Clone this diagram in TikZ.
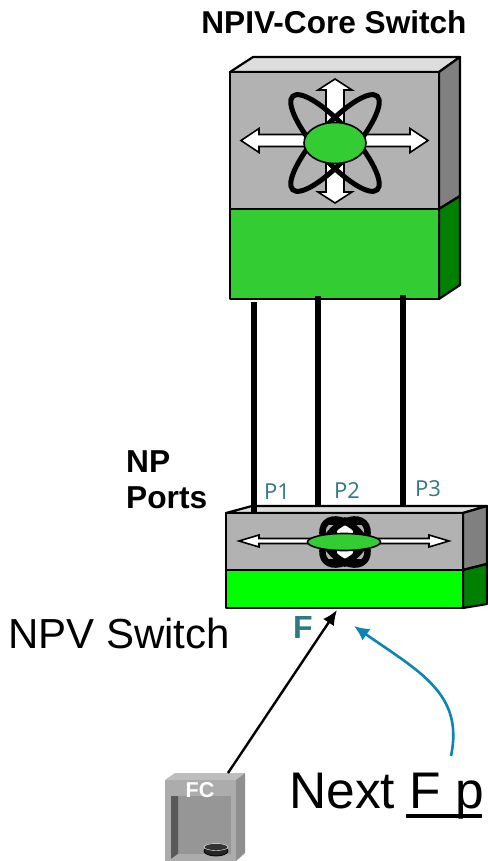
\documentclass[tikz,border=0pt]{standalone}
\usepackage{fontspec}
\setmainfont{Liberation Sans}
\newfontfamily\portfont{Open Sans}
\usetikzlibrary{arrows.meta,shapes.geometric}
\definecolor{swgreen}{HTML}{33CC33}
\definecolor{swlime}{HTML}{00FF00}
\definecolor{swdark}{HTML}{008000}
\definecolor{swgrey}{HTML}{B2B2B2}
\definecolor{swside}{HTML}{808080}
\definecolor{swtop}{HTML}{DDDDDD}
\definecolor{teal1}{HTML}{2F7888}
\definecolor{blue1}{HTML}{0A85B5}
\definecolor{fctop}{HTML}{BDBDBD}
\definecolor{fcside}{HTML}{8F8F8F}
\definecolor{fcfront}{HTML}{ACACAC}
\definecolor{fcinner}{HTML}{969696}
\definecolor{fcwall}{HTML}{595959}
\tikzset{
  face/.style={draw=black,line width=2.2pt,line join=round},
  link/.style={draw=black,line width=5.5pt},
  whitearrow/.style={fill=white,draw=black,line width=1.6pt,line join=miter},
  lbl/.style={inner sep=0pt,anchor=base west,text=black},
  portlbl/.style={inner sep=0pt,anchor=base,text=teal1,font=\portfont\fontsize{22}{22}\selectfont},
}
% double arrow: horizontal, centre (#1,#2), half length #3, half shaft #4, half head #5, head length #6
\newcommand{\hdarrow}[6]{\draw[whitearrow] (#1-#3,#2) -- ++(#6,-#5) -- ++(0,#5-#4) -- (#1+#3-#6,#2-#4) -- ++(0,#4-#5) -- (#1+#3,#2) -- ++(-#6,#5) -- ++(0,#4-#5) -- (#1-#3+#6,#2+#4) -- ++(0,#5-#4) -- cycle;}
\newcommand{\vdarrow}[6]{\draw[whitearrow] (#1,#2-#3) -- ++(-#5,#6) -- ++(#5-#4,0) -- (#1-#4,#2+#3-#6) -- ++(#4-#5,0) -- (#1,#2+#3) -- ++(#5,-#6) -- ++(#4-#5,0) -- (#1+#4,#2-#3+#6) -- ++(#5-#4,0) -- cycle;}
\begin{document}
\begin{tikzpicture}[x=1pt,y=-1pt]
\useasboundingbox (0,0) rectangle (487,861);
\fill[white] (0,0) rectangle (487,861);
% ---- core switch
\draw[face,fill=swtop] (230,72) -- (253,57) -- (460,57) -- (439,72) -- cycle;
\draw[face,fill=swside] (439,72) -- (460,57) -- (460,196) -- (439,209) -- cycle;
\draw[face,fill=swdark] (439,209) -- (460,196) -- (460,285) -- (439,299) -- cycle;
\draw[face,fill=swgrey] (230,72) rectangle (439,209);
\draw[face,fill=swgreen] (230,209) rectangle (439,299);
\vdarrow{335}{141}{62}{9}{17}{11}
\hdarrow{334.5}{140.5}{93.5}{6}{12}{18}
\draw[black,line width=5pt] (335,143) ellipse[x radius=63,y radius=18,rotate=48];
\draw[black,line width=5pt] (335,143) ellipse[x radius=63,y radius=18,rotate=-48];
\node[draw=black,line width=1.6pt,fill=swgreen,ellipse,minimum width=62pt,minimum height=41pt,inner sep=0pt] (hubA) at (335,143) {};
% ---- NPV switch
\draw[face,fill=swtop] (226,513) -- (252,506) -- (487,506) -- (463,513) -- cycle;
\draw[face,fill=swside] (463,513) -- (487,506) -- (487,564) -- (463,570) -- cycle;
\draw[face,fill=swdark] (463,570) -- (487,564) -- (487,604) -- (463,608) -- cycle;
\draw[face,fill=swgrey] (226,513) rectangle (463,570);
\draw[face,fill=swlime] (226,570) rectangle (463,608);
\vdarrow{345}{542}{24}{9}{14}{6}
\draw[black,line width=6.5pt] (345,542) ellipse[x radius=27,y radius=17,rotate=45];
\draw[black,line width=6.5pt] (345,542) ellipse[x radius=27,y radius=17,rotate=-45];
\hdarrow{344}{541}{105}{2.5}{6}{20}
\node[draw=black,line width=1.6pt,fill=swgreen,ellipse,minimum width=73pt,minimum height=17pt,inner sep=0pt] (hubB) at (344,542) {};
% ---- links
\coordinate (a1) at (254,302); \coordinate (b1) at (254,513);
\coordinate (a2) at (318,296); \coordinate (b2) at (318,505);
\coordinate (a3) at (403,295); \coordinate (b3) at (403,505);
\draw[link] (a1) -- (b1);
\draw[link] (a2) -- (b2);
\draw[link] (a3) -- (b3);
% ---- FC device
\fill[fctop] (165,780) -- (175,773) -- (245,773) -- (236,780) -- cycle;
\fill[fcside] (236,780) -- (245,773) -- (245,853) -- (236,861) -- cycle;
\fill[fcfront] (165,780) rectangle (236,861);
\fill[fcinner] (171,796) rectangle (231,859);
\fill[fcwall] (171,796) -- (178,796) -- (178,854) -- (171,859) -- cycle;
\fill[fcfront] (171,859) -- (178,854) -- (231,854) -- (231,859) -- cycle;
\node[draw=black,line width=.8pt,fill=black!85,ellipse,minimum width=24pt,minimum height=10pt,inner sep=0pt] (disk) at (216,851) {};
\node[draw=white,line width=.4pt,fill=black!80,ellipse,minimum width=24pt,minimum height=7pt,inner sep=0pt] (diskTop) at (216,847) {};
\node[inner sep=0pt,text=white,font=\bfseries\fontsize{21.5}{21.5}\selectfont] (fc) at (200,790) {FC};
% ---- connectors
\coordinate (fcTop) at (228,773);
\coordinate (npvIn) at (337,610);
\coordinate (note) at (451,756);
\coordinate (noteEnd) at (354,626);
\draw[black,line width=2.4pt,-{Latex[length=15pt,width=13pt]}] (fcTop) -- (npvIn);
\draw[blue1,line width=2.6pt,-{Latex[length=15pt,width=14pt]}] (note) .. controls (464,694) and (420,672) .. (noteEnd);
% ---- labels
\node[inner sep=0pt,anchor=base,font=\bfseries\fontsize{31.6}{31.6}\selectfont] (title) at (334,34) {NPIV-Core Switch};
\node[lbl,font=\bfseries\fontsize{31.7}{31.7}\selectfont] (np) at (126,472) {NP};
\node[lbl,font=\bfseries\fontsize{31.7}{31.7}\selectfont] (ports) at (126,508) {Ports};
\node[portlbl] (p1) at (277,499) {P1};
\node[portlbl] (p2) at (347,498) {P2};
\node[portlbl] (p3) at (428,496) {P3};
\node[lbl,font=\fontsize{42}{42}\selectfont] (npv) at (8,648) {NPV Switch};
\node[inner sep=0pt,anchor=base,text=teal1,font=\bfseries\fontsize{32}{32}\selectfont] (f) at (303,638) {F};
\node[lbl,font=\fontsize{51.5}{51.5}\selectfont] (next) at (289,808) {Next \rlap{\kern-3pt\rule[-9.5pt]{76pt}{3.5pt}}F p};
\end{tikzpicture}
\end{document}
